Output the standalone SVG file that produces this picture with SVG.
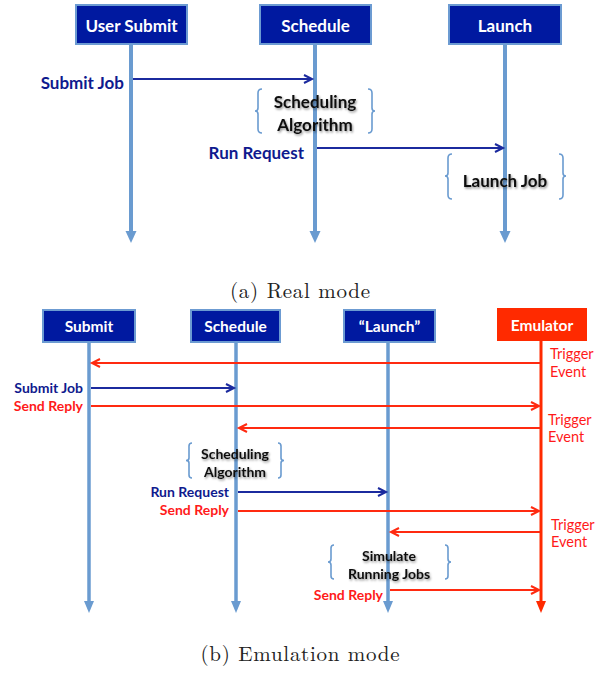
<svg xmlns="http://www.w3.org/2000/svg" width="608" height="673" viewBox="0 0 608 673">
<style>
.box{fill:#0019A0;stroke:#6C9BD2;stroke-width:2}
.ebox{fill:#FF2A00;stroke:none}
.bt{font-family:Lato,"Liberation Sans",sans-serif;font-weight:bold;fill:#fff;text-anchor:middle}
.life{stroke:#6A9BD0;fill:none}
.lhead{fill:#6A9BD0}
.blue{stroke:#1B2A9E;stroke-width:2;fill:none}
.red{stroke:#FF2A10;stroke-width:2;fill:none}
.bl{font-family:Lato,"Liberation Sans",sans-serif;font-weight:bold;fill:#0F1A8E;text-anchor:end}
.rl{font-family:Lato,"Liberation Sans",sans-serif;font-weight:bold;fill:#FF1A1A;text-anchor:end}
.tr{font-family:Lato,"Liberation Sans",sans-serif;fill:#FF1A1A;font-size:14.5px}
.brace{stroke:#6A9BD0;stroke-width:1.6;fill:none}
.act{font-family:Lato,"Liberation Sans",sans-serif;font-weight:bold;fill:#111;text-anchor:middle;filter:url(#sh)}
.cap{font-family:"Latin Modern Roman","Liberation Serif",serif;font-size:21px;fill:#222;text-anchor:middle}
</style>
<defs>
<filter id="sh" x="-20%" y="-30%" width="140%" height="160%">
<feDropShadow dx="1" dy="1.5" stdDeviation="1" flood-color="#000" flood-opacity="0.45"/>
</filter>
<marker id="ab" markerUnits="userSpaceOnUse" markerWidth="12" markerHeight="12" refX="9" refY="5" orient="auto">
<path d="M1,1 L9,5 L1,9" fill="none" stroke="#1B2A9E" stroke-width="2"/>
</marker>
<marker id="ar" markerUnits="userSpaceOnUse" markerWidth="12" markerHeight="12" refX="9" refY="5" orient="auto">
<path d="M1,1 L9,5 L1,9" fill="none" stroke="#FF2A10" stroke-width="2"/>
</marker>
</defs>
<rect width="608" height="673" fill="#fff"/>

<!-- (a) Real mode -->
<g id="a-usersubmit">
<line class="life" x1="131" y1="44" x2="131" y2="232" stroke-width="4"/>
<polygon class="lhead" points="125.5,231 136.5,231 131,243"/>
<rect class="box" x="76" y="5" width="111" height="39"/>
<text class="bt" x="131.5" y="32" font-size="17">User Submit</text>
</g>
<g id="a-schedule">
<line class="life" x1="315" y1="44" x2="315" y2="232" stroke-width="4"/>
<polygon class="lhead" points="309.5,231 320.5,231 315,243"/>
<rect class="box" x="260" y="5" width="111" height="39"/>
<text class="bt" x="315.5" y="32" font-size="17">Schedule</text>
</g>
<g id="a-launch">
<line class="life" x1="505" y1="44" x2="505" y2="232" stroke-width="4"/>
<polygon class="lhead" points="499.5,231 510.5,231 505,243"/>
<rect class="box" x="449" y="5" width="112" height="39"/>
<text class="bt" x="505" y="32" font-size="17">Launch</text>
</g>
<g id="a-connectors">
<line class="blue" x1="133" y1="79" x2="312" y2="79" marker-end="url(#ab)"/>
<line class="blue" x1="317" y1="148" x2="503" y2="148" marker-end="url(#ab)"/>
</g>
<g id="a-labels">
<text class="bl" x="124" y="89" font-size="17">Submit Job</text>
<text class="bl" x="304" y="159" font-size="17">Run Request</text>
</g>
<g id="a-sched-algo">
<path class="brace" d="M262,89 Q258,89 258,93 L258,108 Q258,111 255,111 Q258,111 258,114 L258,129 Q258,133 262,133"/>
<path class="brace" d="M368,89 Q372,89 372,93 L372,108 Q372,111 375,111 Q372,111 372,114 L372,129 Q372,133 368,133"/>
<text class="act" x="315" y="108" font-size="17">Scheduling</text>
<text class="act" x="315" y="131" font-size="17">Algorithm</text>
</g>
<g id="a-launch-job">
<path class="brace" d="M452,154 Q448,154 448,158 L448,173 Q448,176 445,176 Q448,176 448,179 L448,195 Q448,199 452,199"/>
<path class="brace" d="M559,154 Q563,154 563,158 L563,173 Q563,176 566,176 Q563,176 563,179 L563,195 Q563,199 559,199"/>
<text class="act" x="505" y="187" font-size="17">Launch Job</text>
</g>
<text class="cap" x="300" y="298" textLength="140" lengthAdjust="spacing">(a) Real mode</text>

<!-- (b) Emulation mode -->
<g id="b-submit">
<line class="life" x1="89" y1="342" x2="89" y2="602" stroke-width="3.5"/>
<polygon class="lhead" points="84,601 94,601 89,613"/>
<rect class="box" x="43" y="310" width="92" height="32"/>
<text class="bt" x="89" y="332" font-size="15.5">Submit</text>
</g>
<g id="b-schedule">
<line class="life" x1="236" y1="342" x2="236" y2="602" stroke-width="3.5"/>
<polygon class="lhead" points="231,601 241,601 236,613"/>
<rect class="box" x="191" y="310" width="89" height="32"/>
<text class="bt" x="235.5" y="332" font-size="15.5">Schedule</text>
</g>
<g id="b-launch">
<line class="life" x1="388" y1="342" x2="388" y2="602" stroke-width="3.5"/>
<polygon class="lhead" points="383,601 393,601 388,613"/>
<rect class="box" x="344" y="310" width="91" height="32"/>
<text class="bt" x="389.5" y="332" font-size="15.5">“Launch”</text>
</g>
<g id="b-emulator">
<line x1="541" y1="341" x2="541" y2="602" stroke="#FF2A00" stroke-width="3"/>
<polygon points="536,601 546,601 541,613" fill="#FF2A00"/>
<rect class="ebox" x="497" y="308" width="90" height="33"/>
<text class="bt" x="542" y="331" font-size="15.5">Emulator</text>
</g>
<g id="b-connectors">
<line class="red" x1="540" y1="363" x2="92" y2="363" marker-end="url(#ar)"/>
<line class="blue" x1="91" y1="388" x2="234" y2="388" marker-end="url(#ab)"/>
<line class="red" x1="91" y1="406" x2="539" y2="406" marker-end="url(#ar)"/>
<line class="red" x1="540" y1="428" x2="239" y2="428" marker-end="url(#ar)"/>
<line class="blue" x1="238" y1="492" x2="386" y2="492" marker-end="url(#ab)"/>
<line class="red" x1="238" y1="511" x2="539" y2="511" marker-end="url(#ar)"/>
<line class="red" x1="540" y1="532" x2="391" y2="532" marker-end="url(#ar)"/>
<line class="red" x1="390" y1="590" x2="539" y2="590" marker-end="url(#ar)"/>
</g>
<g id="b-labels">
<text class="tr" x="550" y="359">Trigger</text>
<text class="tr" x="550" y="377">Event</text>
<text class="bl" x="83" y="393" font-size="14">Submit Job</text>
<text class="rl" x="83" y="411" font-size="14">Send Reply</text>
<text class="tr" x="548" y="425">Trigger</text>
<text class="tr" x="548" y="442">Event</text>
<text class="bl" x="229" y="497" font-size="14">Run Request</text>
<text class="rl" x="229" y="515" font-size="14">Send Reply</text>
<text class="tr" x="551" y="530">Trigger</text>
<text class="tr" x="551" y="547">Event</text>
<text class="rl" x="383" y="600" font-size="14">Send Reply</text>
</g>
<g id="b-sched-algo">
<path class="brace" d="M192,443 Q189,443 189,446 L189,458 Q189,460.5 186,460.5 Q189,460.5 189,463 L189,475 Q189,478 192,478"/>
<path class="brace" d="M278,443 Q281,443 281,446 L281,458 Q281,460.5 284,460.5 Q281,460.5 281,463 L281,475 Q281,478 278,478"/>
<text class="act" x="235" y="459" font-size="14">Scheduling</text>
<text class="act" x="235" y="477" font-size="14">Algorithm</text>
</g>
<g id="b-simulate">
<path class="brace" d="M334,545 Q331,545 331,548 L331,559 Q331,562 328,562 Q331,562 331,565 L331,576 Q331,579 334,579"/>
<path class="brace" d="M445,545 Q448,545 448,548 L448,559 Q448,562 451,562 Q448,562 448,565 L448,576 Q448,579 445,579"/>
<text class="act" x="389" y="561" font-size="14">Simulate</text>
<text class="act" x="389" y="579" font-size="14">Running Jobs</text>
</g>
<text class="cap" x="300" y="661" textLength="199" lengthAdjust="spacing">(b) Emulation mode</text>
</svg>
